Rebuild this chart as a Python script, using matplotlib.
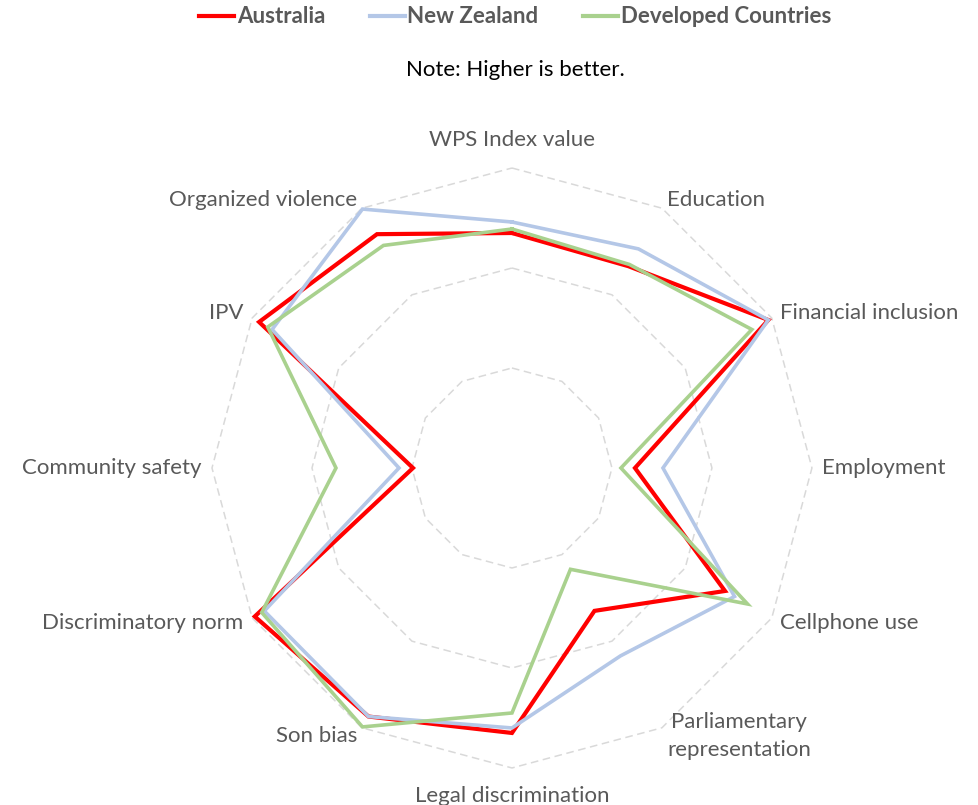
import numpy as np
import matplotlib.pyplot as plt
from matplotlib.lines import Line2D

plt.rcParams['font.family'] = ['Lato', 'DejaVu Sans']

categories = ['WPS Index value', 'Education', 'Financial inclusion', 'Employment',
              'Cellphone use', 'Parliamentary\nrepresentation', 'Legal discrimination',
              'Son bias', 'Discriminatory norm', 'Community safety', 'IPV',
              'Organized violence']

australia = [2.35, 2.33, 2.96, 1.23, 2.46, 1.65, 2.65, 2.87, 2.97, 0.99, 2.92, 2.70]
new_zealand = [2.46, 2.53, 2.96, 1.51, 2.57, 2.17, 2.60, 2.87, 2.86, 1.13, 2.77, 2.99]
developed = [2.39, 2.35, 2.77, 1.09, 2.72, 1.17, 2.45, 2.99, 2.89, 1.76, 2.82, 2.57]

series = [('Australia', australia, '#FF0000', 3.0),
          ('New Zealand', new_zealand, '#B4C7E7', 2.6),
          ('Developed Countries', developed, '#A9D18E', 2.6)]

n = len(categories)
angles = np.linspace(0, 2 * np.pi, n, endpoint=False)
closed = np.append(angles, angles[0])

fig = plt.figure(figsize=(9.79, 8.05), dpi=100)
ax = fig.add_axes([0.2165, 0.046, 0.6129, 0.7453], projection='polar')
ax.set_theta_offset(np.pi / 2)
ax.set_theta_direction(-1)
ax.set_ylim(0, 3)
ax.grid(False)
ax.spines['polar'].set_visible(False)
ax.set_xticks([])
ax.set_yticks([])

# dashed polygon rings
for r in [1, 2, 3]:
    ax.plot(closed, [r] * (n + 1), color='#D9D9D9', lw=1.1,
            dashes=(5, 3), zorder=1, clip_on=False)

for i, (name, vals, col, lw) in enumerate(series):
    v = np.append(vals, vals[0])
    ax.plot(closed, v, color=col, lw=lw, zorder=2 + i, clip_on=False,
            solid_joinstyle='miter')

# category labels
fs = 16
for ang, lab in zip(angles, categories):
    deg = np.degrees(ang) % 360
    if np.isclose(deg, 0) or np.isclose(deg, 180):
        ax.text(ang, 3.28, lab, ha='center', va='center', fontsize=fs,
                color='#595959')
    elif deg < 180:
        ax.text(ang, 3.1, lab, ha='left', va='center', fontsize=fs,
                color='#595959', multialignment='center', linespacing=1.5)
    else:
        ax.text(ang, 3.1, lab, ha='right', va='center', fontsize=fs,
                color='#595959')

handles = [Line2D([0], [0], color=c, lw=3) for _, _, c, _ in series]
leg = fig.legend(handles, [s[0] for s in series], loc='center',
                 bbox_to_anchor=(0.526, 0.979), ncol=3, frameon=False,
                 handlelength=1.6, handletextpad=0.1, columnspacing=2.0,
                 prop={'weight': 'bold', 'size': 16})
for t in leg.get_texts():
    t.set_color('#595959')

fig.text(0.526, 0.913, 'Note: Higher is better.', ha='center', va='center',
         fontsize=16, color='black')

fig.savefig('out.png', dpi=100)
